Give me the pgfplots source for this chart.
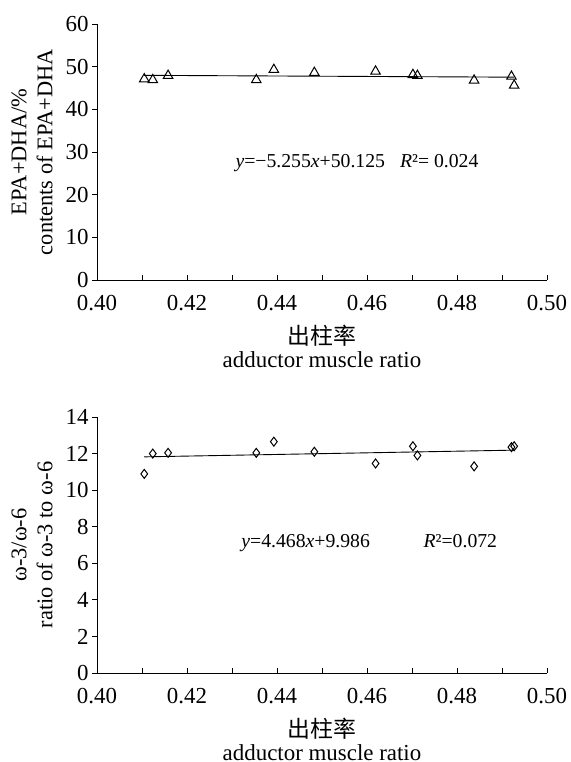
\documentclass[border=0pt]{standalone}
\usepackage{fontspec}
\setmainfont{Liberation Serif}
\newfontfamily\cjk{Noto Sans CJK SC}
\usepackage{pgfplots}
\pgfplotsset{compat=1.18}

% shared look of both panels
\pgfplotsset{
  panel/.style={
    width=450bp, height=256bp, scale only axis,
    axis x line=bottom, axis y line=left,
    axis line style={-, black, line width=0.8bp},
    xmin=0.40, xmax=0.50, ymin=0,
    xtick={0.40,0.42,0.44,0.46,0.48,0.50},
    minor xtick={0.41,0.43,0.45,0.47,0.49},
    xtick align=inside, ytick align=outside,
    major tick length=5bp, minor tick length=5bp,
    tick style={black, line width=0.8bp},
    scaled ticks=false,
    x tick label style={/pgf/number format/.cd, fixed, fixed zerofill, precision=2,
      /tikz/.cd, yshift=-12bp},
    /pgf/number format/assume math mode=true,
    tick label style={font=\fontsize{23}{23}\selectfont},
    every axis y label/.style={at={(axis description cs:-0.1444,0.5)}, rotate=90,
      anchor=center, align=center, font=\fontsize{22.5}{26}\selectfont},
    every axis x label/.style={at={(axis description cs:0.5,0)}, anchor=center,
      inner sep=0pt, yshift=-66.5bp, align=center, font=\fontsize{23}{23}\selectfont},
    clip=false,
  },
}

\begin{document}
\begin{tikzpicture}
\useasboundingbox (0bp,0bp) rectangle (571bp,762bp);

% EPA+DHA
\begin{axis}[panel, at={(97bp,482bp)}, anchor=south west, ymax=60, ytick={0,10,...,60},
  xlabel={{\cjk 出柱率}\\adductor muscle ratio},
  ylabel={EPA+DHA/\%\\contents of EPA+DHA}]
\addplot[black, line width=0.9bp] coordinates {(0.4105,47.968) (0.4927,47.536)};
\addplot[only marks, mark=triangle, mark size=5.5bp,
  mark options={black, fill=white, line width=1bp}] coordinates {
  (0.4105,47.1) (0.4124,46.9) (0.4158,47.9) (0.4354,46.9) (0.4393,49.3)
  (0.4483,48.6) (0.4619,48.9) (0.4702,48.1) (0.4712,47.9) (0.4838,46.8)
  (0.4921,47.7) (0.4927,45.6)};
\node[anchor=base west, font=\fontsize{19.8}{20}\selectfont] at (axis cs:0.4300,26.25)
  {\textit{y}=−5.255\textit{x}+50.125\hspace{15bp}\textit{R}²= 0.024};
\end{axis}

% omega-3 / omega-6
\begin{axis}[panel, at={(97bp,89bp)}, anchor=south west, ymax=14, ytick={0,2,...,14},
  every axis x label/.append style={yshift=0.5bp},
  xlabel={{\cjk 出柱率}\\adductor muscle ratio},
  ylabel={ω-3/ω-6\\ratio of ω-3 to ω-6}]
\addplot[black, line width=0.9bp] coordinates {(0.4105,11.820) (0.4927,12.187)};
\addplot[only marks, mark=diamond, mark size=4.5bp,
  mark options={black, fill=white, line width=1bp}] coordinates {
  (0.4105,10.89) (0.4124,12.00) (0.4158,12.04) (0.4354,12.04) (0.4393,12.65)
  (0.4483,12.10) (0.4619,11.46) (0.4702,12.40) (0.4712,11.90) (0.4838,11.30)
  (0.4921,12.35) (0.4927,12.40)};
\node[anchor=base west, font=\fontsize{19.8}{20}\selectfont] at (axis cs:0.4313,6.86)
  {\textit{y}=4.468\textit{x}+9.986};
\node[anchor=base west, font=\fontsize{19.8}{20}\selectfont] at (axis cs:0.4718,6.86)
  {\textit{R}²=0.072};
\end{axis}
\end{tikzpicture}
\end{document}
